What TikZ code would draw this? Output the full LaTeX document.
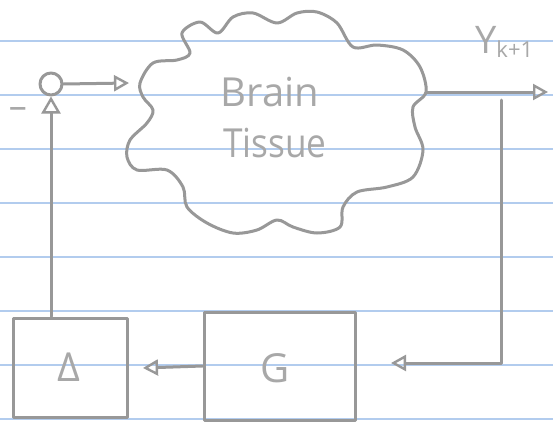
\documentclass[tikz,border=0pt]{standalone}
\usepackage{fontspec}
\setmainfont{Open Sans}
\usetikzlibrary{arrows.meta,calc}
\definecolor{pencil}{RGB}{152,152,152}
\definecolor{ruling}{RGB}{178,204,238}
\begin{document}
\begin{tikzpicture}[x=1pt,y=-1pt,
  pencil/.style={draw=pencil, line width=3pt, line cap=round, line join=round},
  tip/.style={-{Triangle[open,length=15pt,width=16pt,line width=2.4pt]}},
  bigtip/.style={-{Triangle[open,length=17pt,width=19pt,line width=2.4pt]}},
  block/.style={pencil, rectangle, inner sep=0pt},
  hand/.style={text=pencil!85, inner sep=0pt}]
% notebook page with ruled lines
\fill[white] (0,0) rectangle (553,423);
\useasboundingbox (0,0) rectangle (553,423);
\foreach \y in {41,95,149,203,257,311,365,419}
  \draw[ruling, line width=1.4pt] (0,\y) -- (553,\y);

% brain tissue cloud
\draw[pencil] plot[smooth cycle, tension=0.55] coordinates {
  (182,33) (200,22) (218,33) (233,17) (253,13) (277,23) (297,13) (317,12)
  (337,23) (353,47) (377,45) (403,50) (420,67) (426,92) (413,107) (415,127)
  (423,150) (413,177) (387,187) (357,192) (343,207) (340,227) (317,233)
  (293,227) (277,220) (257,230) (233,233) (207,223) (187,207) (183,187)
  (167,170) (137,170) (127,157) (130,140) (147,123) (153,110) (143,97)
  (140,83) (153,63) (177,60) (190,53)};
\node[hand, anchor=base, font=\fontsize{40}{40}\selectfont] (brain) at (270,106) {Brain};
\node[hand, anchor=base, xscale=0.88, font=\fontsize{40}{40}\selectfont] (tissue) at (275,157) {Tissue};

% summing junction
\node[pencil, circle, minimum size=22pt, inner sep=0pt] (sum) at (51,84) {};
\node[hand, font=\fontsize{36}{36}\selectfont] (minus) at (18,113) {–};

% blocks
\node[block, minimum width=114pt, minimum height=99pt] (delta) at (70,367.5) {};
\node[hand, anchor=base, font=\fontsize{40}{40}\selectfont] (deltalab) at (69,381) {Δ};
\node[block, minimum width=151pt, minimum height=108pt] (G) at (279.5,366) {};
\node[hand, anchor=base, font=\fontsize{40}{40}\selectfont] (Glab) at (275,382) {G};

% output label
\node[hand, anchor=base west, font=\fontsize{38}{38}\selectfont] (ylab) at (475,53)
  {Y\fontsize{22}{22}\selectfont\raisebox{-4pt}{k+1}};

% connectors
\coordinate (cin) at (129,83);
\coordinate (cout) at (426,92);
\coordinate (yend) at (548,92);
\coordinate (tap) at (501,100);
\coordinate (gin) at (391,363);
\coordinate (dout) at (143,368);
\draw[pencil, tip] (sum.east) -- (cin);
\draw[pencil, tip] (cout) -- (yend);
\draw[pencil, tip] (tap) |- (gin);
\draw[pencil, tip] (G.west) -- (dout);
\draw[pencil, bigtip] (delta.north -| sum) -- (sum.south);
\end{tikzpicture}
\end{document}
